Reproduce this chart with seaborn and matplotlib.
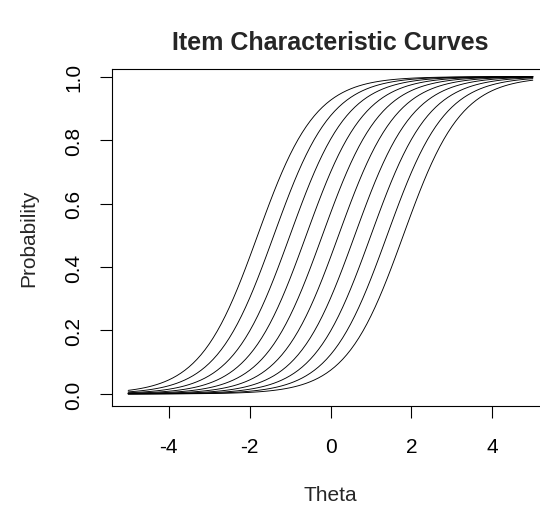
import numpy as np
import pandas as pd
import matplotlib
matplotlib.use("Agg")
import matplotlib.pyplot as plt
import seaborn as sns

# Item parameters (2PL logistic)
items = [f"Item {i}" for i in range(1, 11)]
difficulty = [-1.8, -1.4, -1.0, -0.6, -0.2, 0.2, 0.6, 1.0, 1.4, 1.8]
discrimination = [1.4] * 10
theta_grid = np.linspace(-5, 5, 101)

x_ticks = [-4, -2, 0, 2, 4]
y_ticks = [0.0, 0.2, 0.4, 0.6, 0.8, 1.0]
y_tick_labels = ["0.0", "0.2", "0.4", "0.6", "0.8", "1.0"]

rows = []
for name, b, a in zip(items, difficulty, discrimination):
    p = 1.0 / (1.0 + np.exp(-a * (theta_grid - b)))
    rows.append(pd.DataFrame({"Theta": theta_grid, "Probability": p, "item": name}))
df = pd.concat(rows, ignore_index=True)

sns.set_style("ticks")
plt.rcParams["font.family"] = ["Liberation Sans", "DejaVu Sans"]

W, H = 540, 506
fig = plt.figure(figsize=(W / 100, H / 100), dpi=100)
left, right, top, bottom = 112, 549, 69.7, 407.3
ax = fig.add_axes([left / W, 1 - bottom / H, (right - left) / W, (bottom - top) / H])

sns.lineplot(data=df, x="Theta", y="Probability", hue="item",
             palette=["black"] * len(items), legend=False, lw=0.65, ax=ax)

ax.set_xlim(-5.4, 5.4)
ax.set_ylim(-0.039, 1.025)
ax.set_xticks(x_ticks)
ax.set_xticklabels([str(t) for t in x_ticks])
ax.set_yticks(y_ticks)
ax.set_yticklabels(y_tick_labels, rotation=90, va="center")
ax.tick_params(axis="both", direction="out", length=8.5, width=0.8,
               color="black", labelsize=15, labelcolor="black")
ax.tick_params(axis="x", pad=13.5)
ax.tick_params(axis="y", pad=12)
for s in ax.spines.values():
    s.set_visible(True)
    s.set_color("black")
    s.set_linewidth(0.8)

ax.set_xlabel("Theta", fontsize=15, labelpad=21)
ax.set_ylabel("Probability", fontsize=15, labelpad=19)
ax.set_title("Item Characteristic Curves", fontsize=18, fontweight="bold", pad=14)
ax.grid(False)

fig.savefig("out.png", dpi=100)
